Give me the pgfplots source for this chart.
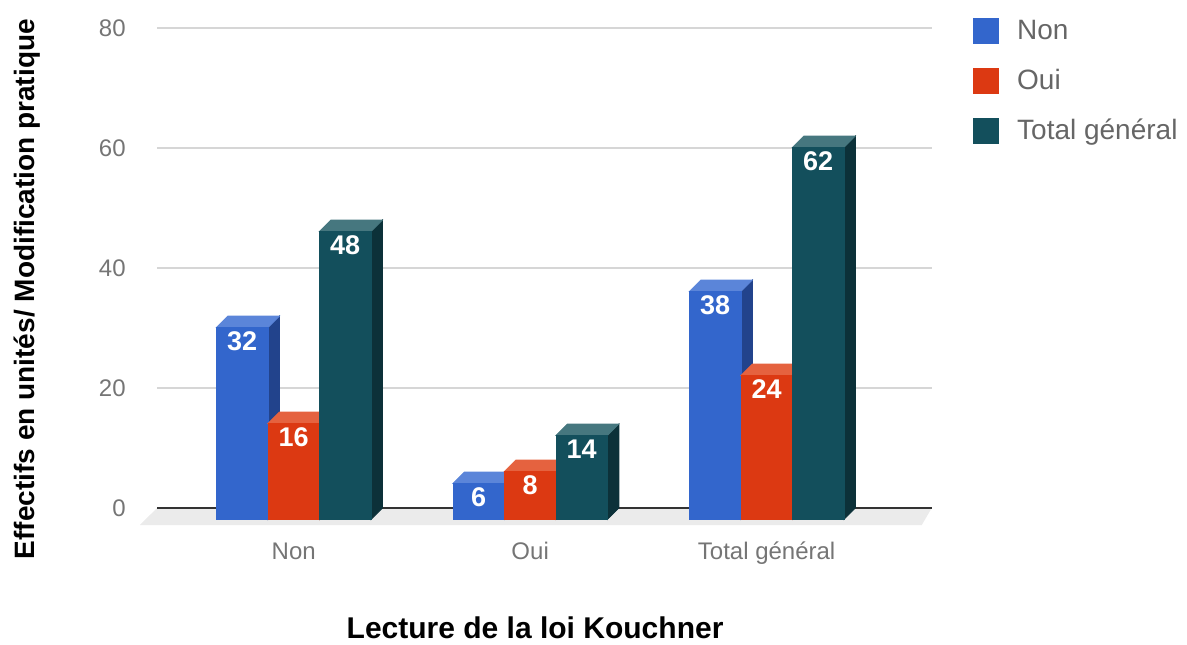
\documentclass[border=0pt]{standalone}
\usepackage{fontspec}
\setmainfont{Liberation Sans}
\usepackage{pgfplots}
\usepackage{pgfplotstable}
\pgfplotsset{compat=1.18}

\definecolor{bluef}{HTML}{3366CC}
\definecolor{bluet}{HTML}{5B85D9}
\definecolor{blues}{HTML}{22438C}
\definecolor{redf}{HTML}{DC3912}
\definecolor{redt}{HTML}{E5623F}
\definecolor{reds}{HTML}{9A280D}
\definecolor{tealf}{HTML}{134F5C}
\definecolor{tealt}{HTML}{46777F}
\definecolor{teals}{HTML}{0C3139}
\definecolor{ticklab}{HTML}{757575}
\definecolor{legtext}{HTML}{666666}
\definecolor{gridc}{HTML}{D6D6D6}
\definecolor{floorc}{HTML}{EBEBEB}
\definecolor{zeroc}{HTML}{333333}

\pgfdeclareplotmark{emptymark}{}

% columns: group index (0,1,2) and value
\pgfplotstableread{
x v
0 32
1 6
2 38
}\nonData
\pgfplotstableread{
x v
0 16
1 8
2 24
}\ouiData
\pgfplotstableread{
x v
0 48
1 14
2 62
}\totData

% #1 = bar shift (pt), #2 front, #3 top, #4 side
\pgfplotsset{
  bar3d/.style n args={4}{
    scatter, only marks, mark=emptymark, forget plot,
    visualization depends on={y \as \barval},
    scatter/@pre marker code/.code={%
      \pgfmathsetmacro\barh{\barval*3}%
      \pgfmathsetmacro\xa{#1-12.875}%
      \pgfmathsetmacro\xb{#1+12.875}%
      \fill[#4] (\xb pt,-5.75pt) -- (\xb pt+5.75pt,0pt) -- (\xb pt+5.75pt,-\barh pt) -- (\xb pt,-\barh pt-5.75pt) -- cycle;
      \fill[#3] (\xa pt,-5.75pt) -- (\xb pt,-5.75pt) -- (\xb pt+5.75pt,0pt) -- (\xa pt+5.75pt,0pt) -- cycle;
      \fill[#2] (\xa pt,-5.75pt) rectangle (\xb pt,-\barh pt-5.75pt);
      \node[text=white, font=\bfseries\fontsize{13.5}{15}\selectfont, inner sep=0pt, anchor=center] at (#1 pt,-12.75pt) {\pgfmathprintnumber[fixed,precision=0]{\barval}};
    },
    scatter/@post marker code/.code={},
  },
  sqlegend/.style={legend image code/.code={\fill[#1] (0pt,-6.25pt) rectangle (12.5pt,6.25pt);}},
}

\begin{document}
\begin{tikzpicture}
\useasboundingbox (0,0) rectangle (593.5pt,322pt);
\begin{axis}[
  at={(78.5pt,50pt)}, anchor=south west,
  scale only axis, width=387.35pt, height=258pt,
  xmin=-0.578, xmax=2.698, ymin=-6, ymax=80,
  clip=false,
  axis line style={draw=none},
  tick style={draw=none},
  major tick length=0pt,
  xtick={0,1,2},
  xticklabels={Non,Oui,Total général},
  ytick={0,20,40,60,80},
  ymajorgrids=true,
  grid style={gridc, line width=0.6pt},
  /pgf/number format/assume math mode=true,
  xticklabel style={anchor=base, yshift=-7.5pt, inner sep=0pt, font=\fontsize{12}{14}\selectfont, text=ticklab},
  yticklabel style={anchor=east, xshift=-15.5pt, inner sep=0pt, font=\fontsize{12}{14}\selectfont, text=ticklab},
  xlabel={Lecture de la loi Kouchner},
  xlabel style={at={(axis description cs:0.488,-0.1825)}, anchor=base, inner sep=0pt, font=\bfseries\fontsize{15}{18}\selectfont},
  ylabel={Effectifs en unités/ Modification pratique},
  ylabel style={at={(axis description cs:-0.1678,0.494)}, anchor=center, inner sep=0pt, font=\bfseries\fontsize{14}{17}\selectfont},
  legend style={at={(axis description cs:1.0533,1.02)}, anchor=north west, draw=none, fill=none,
    font=\fontsize{14}{16.8}\selectfont, text=legtext, row sep=12pt, column sep=9pt,
    inner sep=0pt, nodes={inner sep=0pt}},
  legend cell align=left,
]
\fill[floorc] (axis cs:-0.578,0) -- (axis cs:2.698,0) -- (axis cs:2.656,-2.833) -- (axis cs:-0.650,-2.833) -- cycle;
\draw[zeroc, line width=1pt] (axis cs:-0.578,0) -- (axis cs:2.698,0);
\addplot[bar3d={-25.75}{bluef}{bluet}{blues}] table[x=x, y=v] {\nonData};
\addplot[bar3d={0}{redf}{redt}{reds}] table[x=x, y=v] {\ouiData};
\addplot[bar3d={25.75}{tealf}{tealt}{teals}] table[x=x, y=v] {\totData};
\addlegendimage{sqlegend=bluef}
\addlegendentry{Non}
\addlegendimage{sqlegend=redf}
\addlegendentry{Oui}
\addlegendimage{sqlegend=tealf}
\addlegendentry{Total général}
\end{axis}
\end{tikzpicture}
\end{document}
